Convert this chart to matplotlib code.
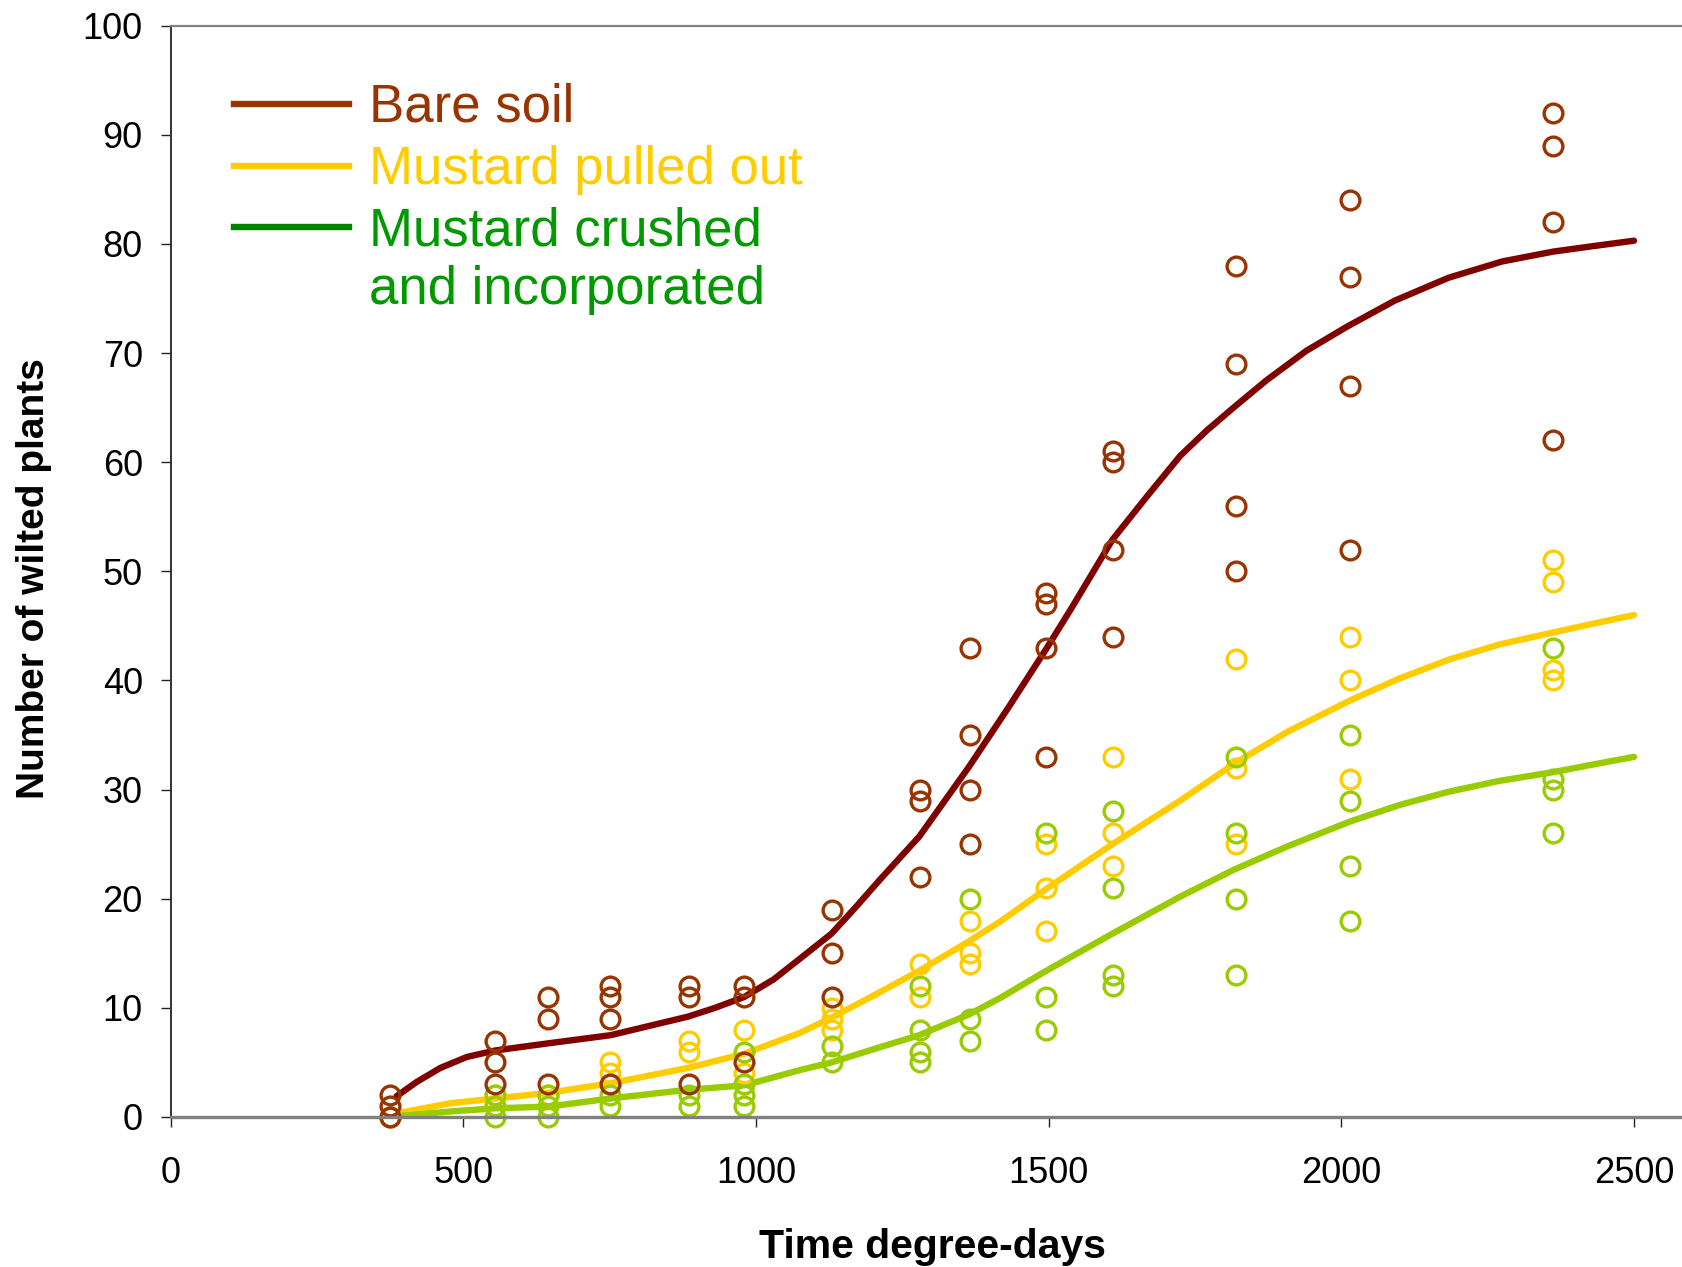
import numpy as np
import matplotlib
matplotlib.use('Agg')
import matplotlib.pyplot as plt
from matplotlib.lines import Line2D

plt.rcParams['font.family'] = ['Liberation Sans', 'DejaVu Sans']

# sampling dates (degree-days) and wilted plant counts per plot
days = [375, 555, 645, 750, 885, 980, 1130, 1280, 1365, 1495, 1610, 1820, 2015, 2362]
bare = [[2, 1, 0], [7, 5, 3], [11, 9, 3], [12, 11, 9, 3], [12, 11, 3], [12, 11, 5],
        [19, 15, 11], [30, 29, 22], [43, 35, 30, 25], [48, 47, 43, 33],
        [61, 60, 52, 44], [78, 69, 56, 50], [84, 77, 67, 52], [92, 89, 82, 62]]
pulled = [[0], [2, 1], [2], [5, 4, 3], [7, 6], [8, 4, 3], [10, 9, 8], [14, 11],
          [18, 15, 14], [25, 21, 17], [33, 26, 23], [42, 32, 25], [44, 40, 31],
          [51, 49, 41, 40]]
crushed = [[0], [2, 1, 0], [2, 1, 0], [2, 1], [2, 1], [6, 3, 2, 1], [6.5, 5],
           [12, 8, 6, 5], [20, 9, 7], [26, 11, 8], [28, 21, 13, 12],
           [33, 26, 20, 13], [35, 29, 23, 18], [43, 31, 30, 26]]

# fitted curves
bare_fit_x = [386, 420, 461, 506, 555, 645, 752, 884, 930, 980, 1030, 1075, 1129,
              1170, 1211, 1279, 1364, 1431, 1496, 1541, 1609, 1670, 1725, 1770,
              1818, 1872, 1940, 2009, 2091, 2183, 2275, 2362, 2430, 2500]
bare_fit_y = [1.9, 3.2, 4.5, 5.5, 6.1, 6.75, 7.5, 9.2, 10.0, 11.0, 12.6, 14.5, 16.8,
              19.2, 21.7, 25.7, 32.1, 37.5, 42.9, 46.8, 52.9, 57.0, 60.6, 62.9,
              65.1, 67.5, 70.2, 72.4, 74.8, 76.9, 78.4, 79.3, 79.8, 80.3]
pulled_fit_x = [392, 477, 555, 645, 752, 884, 980, 1075, 1129, 1200, 1279, 1364, 1417,
                1496, 1609, 1725, 1818, 1908, 2016, 2100, 2183, 2270, 2362, 2430, 2500]
pulled_fit_y = [0.4, 1.25, 1.7, 2.2, 3.1, 4.5, 5.8, 7.7, 9.1, 11.1, 13.4, 16.1, 17.9,
                20.9, 25.0, 29.0, 32.4, 35.3, 38.2, 40.2, 41.9, 43.3, 44.4, 45.2, 46.0]
crushed_fit_x = [392, 477, 555, 645, 752, 884, 980, 1075, 1129, 1200, 1279, 1364, 1417,
                 1496, 1609, 1725, 1818, 1908, 2016, 2100, 2183, 2270, 2362, 2430, 2500]
crushed_fit_y = [0.1, 0.5, 0.8, 0.95, 1.7, 2.5, 2.9, 4.3, 5.0, 6.2, 7.5, 9.4, 10.9,
                 13.4, 16.8, 20.2, 22.7, 24.8, 27.1, 28.6, 29.8, 30.8, 31.6, 32.3, 33.0]

labels = ['Bare soil', 'Mustard pulled out', 'Mustard crushed\nand incorporated']


def flat(groups):
    xs, ys = [], []
    for d, g in zip(days, groups):
        xs += [d] * len(g)
        ys += g
    return xs, ys


W, H = 1682, 1267
fig = plt.figure(figsize=(W / 100, H / 100), dpi=100)
x0, x1, y0, y1 = 170.6, 1682, 1117, 25.7
ax = fig.add_axes([x0 / W, 1 - y0 / H, (x1 - x0) / W, (y0 - y1) / H])
ax.set_xlim(0, 2582)
ax.set_ylim(0, 100)

lw = 4.6
ax.plot(bare_fit_x, bare_fit_y, color='#800000', lw=lw, solid_capstyle='round',
        solid_joinstyle='round', clip_on=False)
ax.plot(pulled_fit_x, pulled_fit_y, color='#FFCC00', lw=lw, solid_capstyle='round',
        solid_joinstyle='round', clip_on=False)
ax.plot(crushed_fit_x, crushed_fit_y, color='#99CC00', lw=lw, solid_capstyle='round',
        solid_joinstyle='round', clip_on=False)

mk = dict(marker='o', ls='none', ms=13.5, mew=2.4, mfc='none', clip_on=False)
for groups, c in [(pulled, '#FFCC00'), (crushed, '#99CC00'), (bare, '#993300')]:
    xs, ys = flat(groups)
    ax.plot(xs, ys, mec=c, **mk)

ax.set_xticks([0, 500, 1000, 1500, 2000, 2500])
ax.set_yticks(np.arange(0, 101, 10))
ax.tick_params(axis='x', direction='out', length=7, width=1, colors='#222222',
               labelsize=26, pad=21, labelcolor='black')
ax.tick_params(axis='y', direction='out', length=7, width=1, colors='#222222',
               labelsize=26, pad=13, labelcolor='black')

ax.spines['right'].set_visible(False)
ax.spines['left'].set_color('#333333')
ax.spines['left'].set_linewidth(1.4)
ax.spines['top'].set_color('#808080')
ax.spines['top'].set_linewidth(1.6)
ax.spines['bottom'].set_color('#808080')
ax.spines['bottom'].set_linewidth(2.4)

fig.text(932 / W, 1 - 1247 / H, 'Time degree-days', ha='center', va='center',
         fontsize=29.5, fontweight='bold')
fig.text(34 / W, 1 - 579 / H, 'Number of wilted plants', ha='center', va='center',
         rotation=90, fontsize=28, fontweight='bold')

# legend drawn by hand so the text colours follow the series
leg_line = ['#993300', '#FFCC00', '#008000']
leg_text = ['#993300', '#FFCC00', '#009900']
leg_y = [104, 166.3, 227.4]
for lab, lc, tc, py in zip(labels, leg_line, leg_text, leg_y):
    yy = 1 - py / H
    fig.add_artist(Line2D([233.9 / W, 348.6 / W], [yy, yy], color=lc, lw=4.6,
                          transform=fig.transFigure))
    lines = lab.split('\n')
    fig.text(369 / W, 1 - (py + 4) / H, lines[0], color=tc, fontsize=38,
             ha='left', va='center')
    if len(lines) > 1:
        fig.text(369 / W, 1 - 290 / H, lines[1], color=tc, fontsize=38,
                 ha='left', va='center')

fig.savefig('out.png', dpi=100, facecolor='white')
